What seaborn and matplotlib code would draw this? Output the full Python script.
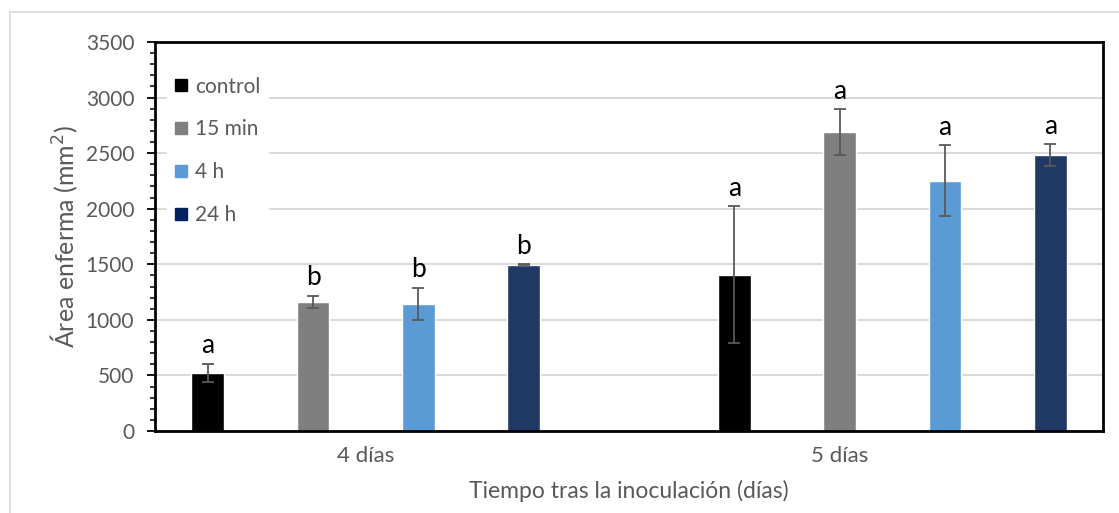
import matplotlib
matplotlib.use("Agg")
import matplotlib.pyplot as plt
from matplotlib.lines import Line2D
from matplotlib.ticker import MultipleLocator
import seaborn as sns
import pandas as pd

# Sampling days and treatments
dias = ["4 días", "5 días"]
tratamientos = ["control", "15 min", "4 h", "24 h"]

# Mean diseased area (mm²) per treatment, one entry per day
media_control = [525, 1405]
media_15min = [1160, 2690]
media_4h = [1145, 2250]
media_24h = [1495, 2480]

# Error (± mm²)
err_control = [80, 615]
err_15min = [55, 205]
err_4h = [145, 320]
err_24h = [5, 100]

# Significance letters
letras_control = ["a", "a"]
letras_15min = ["b", "a"]
letras_4h = ["b", "a"]
letras_24h = ["b", "a"]

colores = ["#000000", "#7F7F7F", "#5B9BD5", "#1F3864"]

medias = [media_control, media_15min, media_4h, media_24h]
errores = [err_control, err_15min, err_4h, err_24h]
letras = [letras_control, letras_15min, letras_4h, letras_24h]

filas = []
for t, m in zip(tratamientos, medias):
    for d, v in zip(dias, m):
        filas.append({"dia": d, "trat": t, "area": v})
df = pd.DataFrame(filas)

sns.set_theme(style="white")
plt.rcParams["font.family"] = ["Lato", "DejaVu Sans"]

gris_texto = "#595959"

fig = plt.figure(figsize=(11.19, 5.13), dpi=100)
ax = fig.add_axes([155 / 1119, 1 - 431 / 513, (1103 - 155) / 1119, (431 - 42) / 513])

sns.barplot(data=df, x="dia", y="area", hue="trat", order=dias,
            hue_order=tratamientos, palette=colores, width=0.8, gap=0.69,
            errorbar=None, saturation=1, legend=False, ax=ax, zorder=2)

# Error bars and letters centred on each drawn bar
for cont, err, let in zip(ax.containers, errores, letras):
    for bar, e, l in zip(cont, err, let):
        xc = bar.get_x() + bar.get_width() / 2
        h = bar.get_height()
        ax.errorbar(xc, h, yerr=e, fmt="none", ecolor=gris_texto,
                    elinewidth=1.3, capsize=4.2, capthick=1.3, zorder=3)
        ax.annotate(l, (xc, h + e), xytext=(0, 4), textcoords="offset points",
                    ha="center", va="bottom", fontsize=19, color="black")

ax.set_ylim(0, 3500)
ax.set_xlim(-0.4, 1.4)
ax.yaxis.set_major_locator(MultipleLocator(500))
ax.yaxis.set_minor_locator(MultipleLocator(100))
ax.grid(axis="y", color="#D9D9D9", linewidth=1.4, zorder=0)
ax.set_axisbelow(True)

for s in ax.spines.values():
    s.set_visible(True)
    s.set_color("black")
    s.set_linewidth(2)

ax.tick_params(axis="y", which="major", direction="out", length=6, width=1.3,
               color="black", labelsize=15, labelcolor=gris_texto, pad=9, left=True)
ax.tick_params(axis="y", which="minor", direction="out", length=3.5, width=1.1,
               color="black", left=True)
ax.tick_params(axis="x", length=0, labelsize=16, labelcolor=gris_texto, pad=11)
ax.set_xticks([0, 0.9])
ax.set_xticklabels(dias)

ax.set_ylabel("Área enferma (mm$^2$)", fontsize=18, color=gris_texto, labelpad=4)
ax.set_xlabel("Tiempo tras la inoculación (días)", fontsize=16.5, color=gris_texto, labelpad=10)

handles = [Line2D([], [], marker="s", linestyle="none", markersize=9,
                  markerfacecolor=c, markeredgecolor=c) for c in colores[:3]]
handles.append(Line2D([], [], marker="s", linestyle="none", markersize=9,
                      markerfacecolor="#002060", markeredgecolor="#002060"))
leg = ax.legend(handles, tratamientos, loc="upper left", bbox_to_anchor=(0.013, 0.93),
                frameon=True, facecolor="white", edgecolor="white", framealpha=1,
                fontsize=15, labelspacing=1.1, handlelength=0.65,
                handletextpad=0.35, borderpad=0.35, borderaxespad=0)
for t in leg.get_texts():
    t.set_color(gris_texto)
leg.set_zorder(1.5)

# Light chart-area border on the left and top
fig.add_artist(Line2D([10 / 1119, 10 / 1119], [0, 1 - 12 / 513], color="#D9D9D9", linewidth=1.2))
fig.add_artist(Line2D([10 / 1119, 1], [1 - 12 / 513, 1 - 12 / 513], color="#D9D9D9", linewidth=1.2))

fig.savefig("out.png", dpi=100)
